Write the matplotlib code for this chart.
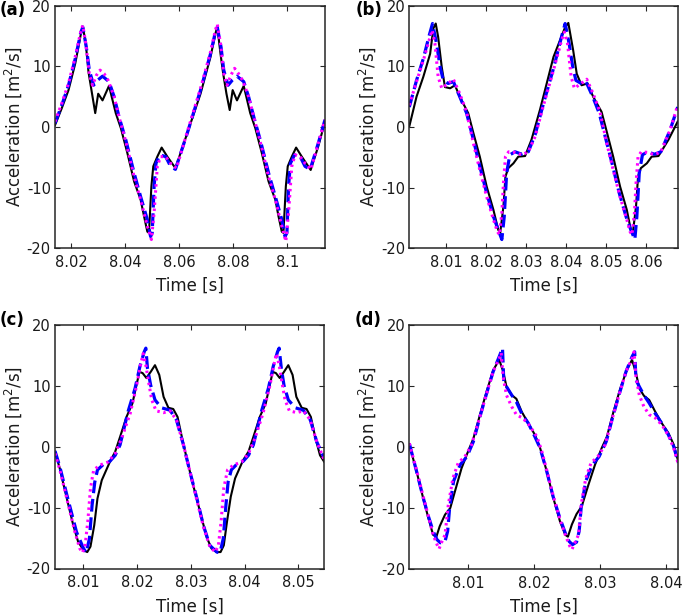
import matplotlib
matplotlib.use("Agg")
import matplotlib.pyplot as plt

# ---------------- data ----------------
panel_labels = ["(a)", "(b)", "(c)", "(d)"]
y_ticks = [-20, -10, 0, 10, 20]
x_ticks_a = [8.02, 8.04, 8.06, 8.08, 8.10]
x_ticklabels_a = ["8.02", "8.04", "8.06", "8.08", "8.1"]
x_ticks_b = [8.01, 8.02, 8.03, 8.04, 8.05, 8.06]
x_ticklabels_b = ["8.01", "8.02", "8.03", "8.04", "8.05", "8.06"]
x_ticks_c = [8.01, 8.02, 8.03, 8.04, 8.05]
x_ticklabels_c = ["8.01", "8.02", "8.03", "8.04", "8.05"]
x_ticks_d = [8.01, 8.02, 8.03, 8.04]
x_ticklabels_d = ["8.01", "8.02", "8.03", "8.04"]
xlim_a = (8.014, 8.114)
xlim_b = (8.0008, 8.0678)
xlim_c = (8.0047, 8.0548)
xlim_d = (8.0011, 8.0418)

# ---- panel (a)
t_a_black = [8.0140, 8.0165, 8.0190, 8.0215, 8.0236, 8.0243, 8.0254, 8.0264, 8.0275, 8.0289,
             8.0300, 8.0316, 8.0340, 8.0365, 8.0384, 8.0408, 8.0433, 8.0457, 8.0470, 8.0482,
             8.0488, 8.0497, 8.0504, 8.0519, 8.0535, 8.0556, 8.0586, 8.0630, 8.0679, 8.0716,
             8.0734, 8.0741, 8.0753, 8.0762, 8.0775, 8.0787, 8.0798, 8.0814, 8.0839, 8.0863,
             8.0882, 8.0906, 8.0931, 8.0956, 8.0968, 8.0980, 8.0986, 8.0995, 8.1002, 8.1017,
             8.1033, 8.1054, 8.1087, 8.1115, 8.1140]
acc_a_black = [0.3, 3.1, 6.1, 10.5, 15.4, 16.6, 13.8, 9.1, 6.1, 2.3,
               5.5, 4.4, 6.8, 2.3, -0.2, -4.3, -9.0, -12.0, -14.8, -17.3,
               -17.5, -9.8, -6.5, -4.9, -3.4, -4.9, -6.8, -1.0, 5.5, 11.6,
               15.4, 16.6, 12.1, 9.1, 5.5, 2.8, 6.1, 4.4, 6.8, 2.3,
               -0.2, -4.3, -9.0, -12.0, -14.8, -17.3, -17.5, -9.8, -6.5, -4.9,
               -3.4, -4.9, -7.1, -3.2, 0.9]
t_a_blue = [8.0140, 8.0165, 8.0190, 8.0215, 8.0236, 8.0243, 8.0256, 8.0267, 8.0283, 8.0297,
            8.0316, 8.0340, 8.0359, 8.0377, 8.0402, 8.0433, 8.0457, 8.0482, 8.0494, 8.0500,
            8.0507, 8.0514, 8.0529, 8.0550, 8.0568, 8.0586, 8.0630, 8.0679, 8.0716, 8.0734,
            8.0741, 8.0755, 8.0765, 8.0781, 8.0796, 8.0814, 8.0839, 8.0857, 8.0876, 8.0900,
            8.0931, 8.0956, 8.0980, 8.0992, 8.0999, 8.1005, 8.1012, 8.1027, 8.1048, 8.1066,
            8.1085, 8.1115, 8.1140]
acc_a_blue = [0.6, 3.6, 6.9, 11.3, 15.7, 16.5, 13.2, 9.4, 6.9, 7.7,
              8.4, 7.5, 5.0, 1.7, -2.1, -7.6, -11.5, -15.3, -18.1, -17.5,
              -9.8, -6.0, -4.6, -4.9, -6.5, -7.0, -1.0, 6.1, 12.1, 15.7,
              16.5, 13.2, 9.4, 6.9, 7.7, 8.4, 7.5, 5.0, 1.7, -2.1,
              -7.6, -11.5, -15.3, -18.1, -17.5, -9.8, -6.0, -4.6, -4.9, -6.5,
              -7.0, -2.7, 1.2]
t_a_mag = [8.0140, 8.0165, 8.0190, 8.0215, 8.0236, 8.0243, 8.0254, 8.0267, 8.0279, 8.0294,
           8.0307, 8.0322, 8.0337, 8.0359, 8.0377, 8.0402, 8.0433, 8.0457, 8.0482, 8.0497,
           8.0507, 8.0519, 8.0531, 8.0550, 8.0568, 8.0590, 8.0630, 8.0679, 8.0716, 8.0734,
           8.0741, 8.0753, 8.0765, 8.0777, 8.0792, 8.0805, 8.0820, 8.0835, 8.0857, 8.0876,
           8.0900, 8.0931, 8.0956, 8.0980, 8.0995, 8.1005, 8.1017, 8.1029, 8.1048, 8.1066,
           8.1088, 8.1115, 8.1140]
acc_a_mag = [0.9, 3.9, 7.2, 11.6, 15.9, 16.8, 13.8, 8.8, 6.9, 8.6,
             9.4, 8.8, 7.7, 5.0, 1.7, -2.4, -8.2, -12.0, -16.4, -18.6,
             -14.2, -6.5, -4.9, -4.9, -6.0, -6.8, -0.8, 6.4, 12.4, 16.0,
             17.0, 13.8, 8.8, 6.9, 8.6, 9.7, 8.8, 7.7, 5.0, 1.7,
             -2.4, -8.2, -12.0, -16.4, -18.9, -14.2, -6.5, -4.6, -4.9, -6.0,
             -7.0, -2.7, 1.2]

# ---- panel (b)
t_b_black = [8.0008, 8.0026, 8.0043, 8.0060, 8.0068, 8.0074, 8.0080, 8.0089, 8.0097, 8.0110,
             8.0122, 8.0134, 8.0155, 8.0168, 8.0184, 8.0201, 8.0218, 8.0230, 8.0235, 8.0243,
             8.0248, 8.0255, 8.0268, 8.0280, 8.0297, 8.0313, 8.0334, 8.0351, 8.0368, 8.0397,
             8.0405, 8.0417, 8.0426, 8.0438, 8.0453, 8.0467, 8.0488, 8.0501, 8.0517, 8.0534,
             8.0551, 8.0561, 8.0566, 8.0574, 8.0579, 8.0586, 8.0601, 8.0613, 8.0630, 8.0655,
             8.0678]
acc_b_black = [0.1, 5.0, 8.3, 12.1, 16.3, 17.1, 14.9, 9.9, 6.6, 6.4,
               6.9, 5.0, 2.3, -1.0, -4.9, -9.8, -13.7, -17.0, -17.5, -13.1,
               -8.2, -6.8, -6.0, -4.9, -4.8, -2.1, 2.8, 7.2, 11.6, 16.5,
               17.2, 12.7, 8.8, 6.9, 7.2, 5.0, 2.5, -0.8, -4.9, -9.8,
               -13.7, -17.0, -17.5, -13.1, -8.2, -6.8, -6.0, -4.9, -4.8, -2.1,
               0.9]
t_b_blue = [8.0008, 8.0026, 8.0043, 8.0058, 8.0066, 8.0076, 8.0085, 8.0093, 8.0105, 8.0118,
            8.0134, 8.0151, 8.0168, 8.0184, 8.0201, 8.0218, 8.0230, 8.0239, 8.0245, 8.0251,
            8.0259, 8.0272, 8.0289, 8.0305, 8.0322, 8.0343, 8.0368, 8.0388, 8.0397, 8.0407,
            8.0416, 8.0424, 8.0437, 8.0449, 8.0466, 8.0482, 8.0499, 8.0516, 8.0532, 8.0549,
            8.0561, 8.0571, 8.0576, 8.0582, 8.0590, 8.0603, 8.0620, 8.0636, 8.0659, 8.0678]
acc_b_blue = [3.3, 7.7, 11.3, 15.2, 17.1, 13.8, 9.9, 7.7, 7.2, 7.5,
              5.0, 2.3, -2.1, -6.5, -10.9, -14.8, -17.0, -18.6, -14.8, -7.6,
              -4.6, -4.1, -4.5, -4.1, -1.3, 3.9, 9.7, 14.9, 17.1, 13.8,
              9.9, 7.7, 7.2, 7.5, 5.0, 2.3, -2.1, -6.5, -10.9, -14.8,
              -17.0, -18.6, -14.8, -7.6, -4.6, -4.1, -4.5, -4.1, -0.5, 3.3]
t_b_mag = [8.0008, 8.0026, 8.0043, 8.0060, 8.0065, 8.0072, 8.0080, 8.0089, 8.0105, 8.0118,
           8.0134, 8.0151, 8.0168, 8.0184, 8.0201, 8.0218, 8.0228, 8.0233, 8.0239, 8.0243,
           8.0248, 8.0256, 8.0272, 8.0289, 8.0305, 8.0322, 8.0343, 8.0368, 8.0388, 8.0395,
           8.0403, 8.0412, 8.0420, 8.0437, 8.0451, 8.0467, 8.0484, 8.0501, 8.0517, 8.0534,
           8.0551, 8.0559, 8.0564, 8.0570, 8.0574, 8.0579, 8.0587, 8.0603, 8.0620, 8.0636,
           8.0659, 8.0678]
acc_b_mag = [3.6, 7.5, 11.0, 14.9, 16.0, 13.8, 8.3, 6.4, 7.2, 7.9,
             5.5, 2.5, -2.7, -7.1, -11.5, -15.3, -17.3, -17.8, -14.2, -9.3,
             -4.9, -4.1, -4.2, -4.6, -4.1, -1.6, 3.6, 9.4, 14.3, 15.7,
             13.8, 8.3, 6.4, 7.2, 7.9, 5.5, 2.5, -2.7, -7.1, -11.5,
             -15.3, -17.3, -17.8, -14.2, -9.3, -4.9, -4.1, -4.2, -4.6, -4.1,
             -0.5, 3.6]

# ---- panel (c)
t_c_black = [8.0047, 8.0056, 8.0069, 8.0081, 8.0090, 8.0100, 8.0107, 8.0113, 8.0120, 8.0126,
             8.0134, 8.0149, 8.0159, 8.0168, 8.0180, 8.0191, 8.0198, 8.0204, 8.0210, 8.0217,
             8.0225, 8.0233, 8.0241, 8.0249, 8.0258, 8.0267, 8.0275, 8.0283, 8.0292, 8.0304,
             8.0317, 8.0329, 8.0338, 8.0348, 8.0355, 8.0361, 8.0367, 8.0374, 8.0382, 8.0397,
             8.0407, 8.0416, 8.0428, 8.0439, 8.0446, 8.0452, 8.0458, 8.0465, 8.0473, 8.0481,
             8.0489, 8.0496, 8.0506, 8.0515, 8.0523, 8.0531, 8.0540, 8.0548]
acc_c_black = [-0.8, -3.6, -8.5, -12.9, -15.6, -17.0, -17.3, -16.4, -12.9, -8.5,
               -5.5, -2.5, -0.8, 1.6, 4.9, 7.1, 9.9, 12.3, 12.1, 11.3,
               12.3, 13.4, 11.8, 8.2, 6.4, 6.2, 4.9, 1.6, -1.9, -6.3,
               -10.7, -14.8, -16.7, -17.3, -17.3, -16.2, -12.3, -8.2, -5.2, -2.2,
               -0.8, 1.6, 4.9, 7.1, 9.9, 12.3, 12.1, 11.3, 12.3, 13.4,
               11.8, 8.2, 6.4, 6.2, 4.9, 1.6, -1.4, -2.5]
t_c_blue = [8.0047, 8.0056, 8.0069, 8.0087, 8.0100, 8.0105, 8.0111, 8.0116, 8.0121, 8.0126,
            8.0137, 8.0149, 8.0159, 8.0168, 8.0183, 8.0196, 8.0205, 8.0213, 8.0216, 8.0219,
            8.0225, 8.0233, 8.0245, 8.0261, 8.0273, 8.0286, 8.0298, 8.0311, 8.0323, 8.0335,
            8.0348, 8.0354, 8.0360, 8.0365, 8.0369, 8.0375, 8.0385, 8.0397, 8.0407, 8.0416,
            8.0431, 8.0444, 8.0453, 8.0461, 8.0464, 8.0468, 8.0473, 8.0481, 8.0494, 8.0509,
            8.0522, 8.0534, 8.0548]
acc_c_blue = [-0.7, -3.3, -7.9, -14.0, -16.7, -17.4, -15.1, -9.6, -5.8, -3.8,
              -2.9, -2.4, -1.4, 0.3, 5.8, 9.6, 13.2, 15.6, 16.2, 12.9,
              10.1, 7.7, 6.4, 6.0, 4.4, 0.3, -4.1, -8.5, -12.9, -16.2,
              -17.3, -17.4, -15.1, -9.6, -5.8, -3.8, -2.9, -2.4, -1.4, 0.3,
              5.8, 9.6, 13.2, 15.6, 16.2, 12.9, 10.1, 7.7, 6.4, 6.0,
              4.4, 0.8, -1.9]
t_c_mag = [8.0047, 8.0056, 8.0069, 8.0084, 8.0093, 8.0098, 8.0103, 8.0108, 8.0113, 8.0119,
           8.0131, 8.0146, 8.0159, 8.0171, 8.0187, 8.0199, 8.0206, 8.0211, 8.0216, 8.0221,
           8.0227, 8.0235, 8.0249, 8.0261, 8.0273, 8.0286, 8.0298, 8.0311, 8.0323, 8.0335,
           8.0345, 8.0351, 8.0356, 8.0361, 8.0368, 8.0379, 8.0394, 8.0407, 8.0419, 8.0434,
           8.0447, 8.0454, 8.0459, 8.0464, 8.0469, 8.0475, 8.0483, 8.0497, 8.0509, 8.0522,
           8.0534, 8.0548]
acc_c_mag = [-1.1, -3.8, -8.5, -14.0, -16.7, -17.4, -16.2, -12.3, -6.8, -3.8,
             -3.0, -2.5, -1.1, 1.4, 5.5, 10.1, 13.4, 15.3, 13.4, 10.7,
             7.7, 5.9, 5.6, 5.9, 4.4, 0.3, -4.1, -8.8, -13.1, -16.4,
             -17.3, -16.2, -12.3, -6.8, -3.8, -3.0, -2.5, -1.1, 1.4, 5.5,
             10.1, 13.4, 15.3, 13.4, 10.7, 7.7, 5.9, 5.6, 5.9, 4.4,
             0.8, -2.2]

# ---- panel (d)
t_d_black = [8.0011, 8.0022, 8.0032, 8.0040, 8.0047, 8.0052, 8.0057, 8.0065, 8.0073, 8.0080,
             8.0090, 8.0100, 8.0108, 8.0118, 8.0128, 8.0138, 8.0147, 8.0153, 8.0158, 8.0166,
             8.0173, 8.0181, 8.0191, 8.0201, 8.0209, 8.0219, 8.0229, 8.0239, 8.0247, 8.0251,
             8.0257, 8.0264, 8.0272, 8.0282, 8.0292, 8.0302, 8.0310, 8.0320, 8.0330, 8.0340,
             8.0348, 8.0354, 8.0359, 8.0366, 8.0374, 8.0383, 8.0393, 8.0403, 8.0411, 8.0418]
acc_d_black = [0.4, -4.0, -8.4, -11.7, -14.4, -14.7, -13.0, -11.1, -10.0, -7.3,
               -3.5, -0.7, 1.4, 5.3, 9.1, 12.6, 14.3, 12.4, 9.9, 8.5,
               7.9, 5.8, 3.9, 2.0, -0.2, -4.0, -8.4, -12.2, -14.4, -14.7,
               -12.7, -11.0, -9.7, -6.2, -2.9, -0.2, 1.7, 5.8, 9.5, 12.6,
               14.3, 12.1, 9.6, 8.4, 7.7, 5.8, 3.9, 2.3, 0.4, -2.4]
t_d_blue = [8.0011, 8.0022, 8.0032, 8.0040, 8.0047, 8.0053, 8.0058, 8.0065, 8.0069, 8.0072,
            8.0078, 8.0088, 8.0098, 8.0108, 8.0118, 8.0128, 8.0138, 8.0147, 8.0152, 8.0154,
            8.0158, 8.0166, 8.0173, 8.0181, 8.0191, 8.0201, 8.0209, 8.0219, 8.0229, 8.0239,
            8.0247, 8.0253, 8.0258, 8.0264, 8.0268, 8.0271, 8.0278, 8.0288, 8.0298, 8.0309,
            8.0319, 8.0329, 8.0339, 8.0348, 8.0352, 8.0354, 8.0359, 8.0366, 8.0374, 8.0383,
            8.0393, 8.0403, 8.0411, 8.0418]
acc_d_blue = [0.6, -4.0, -8.3, -11.4, -13.8, -15.2, -15.7, -15.5, -13.8, -10.0,
              -5.6, -2.9, -1.6, 0.9, 5.0, 8.8, 12.4, 14.8, 16.2, 10.7,
              9.9, 8.5, 7.4, 5.5, 3.9, 1.7, -0.2, -4.0, -8.3, -11.7,
              -14.1, -15.5, -16.0, -15.6, -13.8, -10.0, -5.6, -2.9, -1.6, 0.9,
              5.0, 8.8, 12.4, 14.8, 15.6, 11.0, 9.9, 8.5, 7.2, 5.5,
              3.9, 2.0, 0.1, -2.6]
t_d_mag = [8.0011, 8.0022, 8.0032, 8.0040, 8.0047, 8.0053, 8.0056, 8.0060, 8.0065, 8.0070,
           8.0077, 8.0085, 8.0095, 8.0105, 8.0118, 8.0128, 8.0138, 8.0147, 8.0150, 8.0153,
           8.0158, 8.0166, 8.0173, 8.0183, 8.0193, 8.0204, 8.0211, 8.0219, 8.0229, 8.0239,
           8.0247, 8.0254, 8.0257, 8.0262, 8.0267, 8.0271, 8.0278, 8.0286, 8.0296, 8.0307,
           8.0319, 8.0329, 8.0339, 8.0348, 8.0351, 8.0354, 8.0359, 8.0366, 8.0374, 8.0384,
           8.0394, 8.0404, 8.0412, 8.0418]
acc_d_mag = [0.6, -3.8, -8.1, -11.4, -14.4, -16.0, -16.7, -15.6, -14.4, -9.5,
             -5.1, -2.6, -1.6, 0.3, 5.0, 8.8, 12.4, 14.5, 15.4, 11.5,
             8.5, 6.6, 5.3, 4.7, 3.5, 1.7, -0.5, -3.8, -8.1, -11.9,
             -14.4, -16.3, -16.8, -15.6, -14.4, -9.5, -5.1, -2.6, -1.6, 0.3,
             5.0, 8.8, 12.4, 14.5, 15.6, 11.5, 8.5, 6.6, 5.3, 4.7,
             3.5, 1.7, -0.5, -2.8]

# ---------------- figure ----------------
plt.rcParams['font.family'] = ['DejaVu Sans']
plt.rcParams['mathtext.default'] = 'regular'

fig = plt.figure(figsize=(6.85, 6.15), dpi=100)

positions = [
    [55 / 685, 1 - 248 / 615, 270 / 685, 242 / 615],
    [409.3 / 685, 1 - 248 / 615, 268.4 / 685, 242 / 615],
    [55 / 685, 1 - 568.5 / 615, 269.3 / 685, 243.5 / 615],
    [409.3 / 685, 1 - 569 / 615, 269 / 685, 244 / 615],
]
label_pos = [(0.0, 1 - 10 / 615), (356 / 685, 1 - 10 / 615),
             (0.0, 1 - 320 / 615), (355 / 685, 1 - 320 / 615)]

panels = [
    (t_a_black, acc_a_black, t_a_blue, acc_a_blue, t_a_mag, acc_a_mag, xlim_a, x_ticks_a, x_ticklabels_a),
    (t_b_black, acc_b_black, t_b_blue, acc_b_blue, t_b_mag, acc_b_mag, xlim_b, x_ticks_b, x_ticklabels_b),
    (t_c_black, acc_c_black, t_c_blue, acc_c_blue, t_c_mag, acc_c_mag, xlim_c, x_ticks_c, x_ticklabels_c),
    (t_d_black, acc_d_black, t_d_blue, acc_d_blue, t_d_mag, acc_d_mag, xlim_d, x_ticks_d, x_ticklabels_d),
]

frame_color = '#262626'
for i, (tk, ak, tb, ab, tm, am, xl, xt, xtl) in enumerate(panels):
    ax = fig.add_axes(positions[i])
    ax.plot(tk, ak, color='black', lw=1.5, solid_joinstyle='round')
    ax.plot(tb, ab, color='#0000ff', lw=2.3, ls=(0, (4, 1.8)))
    ax.plot(tm, am, color='#ff00ff', lw=2.2, ls=(0, (0.8, 1.2)))
    ax.set_xlim(*xl)
    ax.set_ylim(-20, 20)
    ax.set_xticks(xt)
    ax.set_xticklabels(xtl)
    ax.set_yticks(y_ticks)
    ax.set_yticklabels([str(v) for v in y_ticks])
    ax.tick_params(direction='in', top=True, right=True, length=3.5, width=0.8,
                   labelsize=10.5, pad=3, colors=frame_color, labelcolor='#1a1a1a')
    ax.tick_params(axis='x', pad=5)
    for sp in ax.spines.values():
        sp.set_color(frame_color)
        sp.set_linewidth(1.1)
    ax.set_xlabel('Time [s]', fontsize=12, labelpad=5, color='#1a1a1a')
    ax.set_ylabel('Acceleration [m$^2$/s]', fontsize=12, labelpad=2, color='#1a1a1a')
    fig.text(label_pos[i][0], label_pos[i][1], panel_labels[i], fontsize=12,
             fontweight='bold', va='center', ha='left')

fig.savefig('out.png', dpi=100)
